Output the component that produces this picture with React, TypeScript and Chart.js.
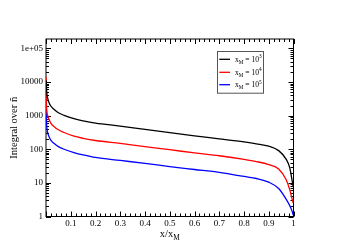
import React, { useEffect, useRef } from 'react';
import { Chart, registerables } from 'chart.js';
Chart.register(...registerables);

// ---- data ----
const xValues = [0.0002, 0.001, 0.003, 0.006, 0.012, 0.02, 0.032, 0.05, 0.073, 0.113, 0.15, 0.2, 0.3, 0.4, 0.5, 0.6, 0.7, 0.8, 0.85, 0.9, 0.94, 0.97, 0.985, 0.995, 0.999];
const seriesXM3 = [null, 11000, 5000, 3500, 2450, 1900, 1550, 1220, 1020, 810, 700, 600, 488, 388, 310, 250, 204, 165, 145, 123, 91, 51, 28, 11, 7.5];
const seriesXM4 = [14000, 3500, 1500, 1050, 775, 590, 475, 380, 315, 245, 212, 182, 149, 120, 97, 78, 64, 50, 43, 35, 26, 12.6, 6.2, 3.2, 2.5];
const seriesXM5 = [2200, 1100, 480, 330, 240, 185, 150, 120, 100, 80, 68, 57, 46.5, 38, 30.5, 25, 20.5, 15.5, 13.5, 10.5, 6.8, 3.3, 2.1, 1.4, 1.1];
const seriesExponents = ['3', '4', '5'];
const seriesColors = ['#000000', '#ff0000', '#0000ff'];
const xTickValues = [0.1, 0.2, 0.3, 0.4, 0.5, 0.6, 0.7, 0.8, 0.9, 1];
const xTickLabels = ['0.1', '0.2', '0.3', '0.4', '0.5', '0.6', '0.7', '0.8', '0.9', '1'];
const yTickValues = [1, 10, 100, 1000, 10000, 100000];
const yTickLabels = ['1', '10', '100', '1000', '10000', '1e+05'];
const yTitle = 'Integral over ñ';

const SERIF = '"Liberation Serif", "DejaVu Serif", serif';

function drawScript(ctx: CanvasRenderingContext2D, parts: { t: string; k: 'n' | 'sub' | 'sup' }[], x: number, y: number, size: number) {
  let cx = x;
  for (const p of parts) {
    const s = p.k === 'n' ? size : size * 0.7;
    const dy = p.k === 'sub' ? size * 0.3 : p.k === 'sup' ? -size * 0.42 : 0;
    ctx.font = `${s}px ${SERIF}`;
    ctx.fillText(p.t, cx, y + dy);
    cx += ctx.measureText(p.t).width;
  }
  return cx - x;
}
function measureScript(ctx: CanvasRenderingContext2D, parts: { t: string; k: 'n' | 'sub' | 'sup' }[], size: number) {
  let w = 0;
  for (const p of parts) {
    const s = p.k === 'n' ? size : size * 0.7;
    ctx.font = `${s}px ${SERIF}`;
    w += ctx.measureText(p.t).width;
  }
  return w;
}

const framePlugin = {
  id: 'frameTicks',
  beforeDatasetsDraw(chart: any) {
    const { ctx, chartArea: a, scales } = chart;
    const xs = scales.x, ys = scales.y;
    ctx.save();
    ctx.strokeStyle = '#000';
    ctx.lineWidth = 1;
    ctx.strokeRect(a.left, a.top, a.right - a.left, a.bottom - a.top);
    ctx.beginPath();
    for (let i = 0; i <= 50; i++) {
      const v = i / 50;
      const px = Math.round(xs.getPixelForValue(v)) + 0.5;
      const len = i % 5 === 0 ? 5 : 3;
      ctx.moveTo(px, a.bottom); ctx.lineTo(px, a.bottom - len);
      ctx.moveTo(px, a.top); ctx.lineTo(px, a.top + len);
    }
    for (let e = 0; e <= 5; e++) {
      for (let m = 1; m <= 9; m++) {
        const v = m * Math.pow(10, e);
        if (v > ys.max) break;
        const py = Math.round(ys.getPixelForValue(v)) + 0.5;
        const len = m === 1 ? 5 : 3;
        ctx.moveTo(a.left, py); ctx.lineTo(a.left + len, py);
        ctx.moveTo(a.right, py); ctx.lineTo(a.right - len, py);
      }
    }
    ctx.stroke();
    ctx.restore();
  },
  afterDraw(chart: any) {
    const { ctx, chartArea: a } = chart;
    ctx.save();
    ctx.fillStyle = '#000';
    ctx.textBaseline = 'alphabetic';
    // x axis title with subscript
    const xt = [{ t: 'x/x', k: 'n' as const }, { t: 'M', k: 'sub' as const }];
    const size = 10.5;
    const w = measureScript(ctx, xt, size);
    drawScript(ctx, xt, (a.left + a.right) / 2 - w / 2, a.bottom + 20.5, size);
    // legend
    const bx = a.left + 170.7, by = a.top + 12, bw = 46, bh = 41.7;
    ctx.strokeStyle = '#555';
    ctx.lineWidth = 1;
    ctx.strokeRect(Math.round(bx) + 0.5, Math.round(by) + 0.5, bw, bh);
    const rows = [8.3, 21.3, 33.7];
    seriesExponents.forEach((ex, i) => {
      const ry = by + rows[i];
      ctx.strokeStyle = seriesColors[i];
      ctx.lineWidth = 1.3;
      ctx.beginPath();
      ctx.moveTo(bx + 2.6, ry); ctx.lineTo(bx + 13.3, ry);
      ctx.stroke();
      ctx.fillStyle = '#000';
      drawScript(ctx, [
        { t: 'x', k: 'n' }, { t: 'M', k: 'sub' }, { t: ' = 10', k: 'n' }, { t: ex, k: 'sup' },
      ], bx + 18.3, ry + 2.3, 7.5);
    });
    ctx.restore();
  },
};

export default function App() {
  const ref = useRef<HTMLCanvasElement>(null);
  useEffect(() => {
    const prevMargin = document.body.style.margin;
    document.body.style.margin = '0';
    const datasets = [seriesXM3, seriesXM4, seriesXM5].map((s, i) => ({
      label: 'xM = 10^' + seriesExponents[i],
      data: xValues.map((x, j) => ({ x, y: s[j] })),
      borderColor: seriesColors[i],
      backgroundColor: seriesColors[i],
      borderWidth: 1.3,
      pointRadius: 0,
      fill: false,
      cubicInterpolationMode: 'monotone' as const,
      spanGaps: false,
    }));
    const chart = new Chart(ref.current!, {
      type: 'line',
      data: { datasets },
      options: {
        animation: false,
        responsive: false,
        devicePixelRatio: 1,
        layout: { padding: { left: 0, right: 57.5, top: 39, bottom: 0 } },
        plugins: { legend: { display: false }, tooltip: { enabled: false } },
        scales: {
          x: {
            type: 'linear',
            min: 0,
            max: 1,
            grid: { display: false, drawTicks: false },
            border: { display: false },
            afterBuildTicks: (scale: any) => { scale.ticks = xTickValues.map((v) => ({ value: v })); },
            afterFit: (scale: any) => { scale.height = 31.5; },
            ticks: {
              autoSkip: false,
              maxRotation: 0,
              padding: 2,
              color: '#000',
              font: { family: SERIF, size: 9 },
              callback: (v: any) => { const i = xTickValues.findIndex((t) => Math.abs(t - v) < 1e-9); return i >= 0 ? xTickLabels[i] : ''; },
            },
          },
          y: {
            type: 'logarithmic',
            min: 1,
            max: 190000,
            grid: { display: false, drawTicks: false },
            border: { display: false },
            afterBuildTicks: (scale: any) => { scale.ticks = yTickValues.map((v) => ({ value: v })); },
            afterFit: (scale: any) => { scale.width = 46; },
            title: { display: true, text: yTitle, color: '#000', font: { family: SERIF, size: 10.5 }, padding: { top: 8, bottom: 0 } },
            ticks: {
              autoSkip: false,
              padding: 3,
              color: '#000',
              font: { family: SERIF, size: 9 },
              callback: (v: any) => { const i = yTickValues.findIndex((t) => Math.abs(t - v) / t < 1e-9); return i >= 0 ? yTickLabels[i] : ''; },
            },
          },
        },
      },
      plugins: [framePlugin],
    });
    return () => { chart.destroy(); document.body.style.margin = prevMargin; };
  }, []);
  return (
    <div style={{ width: 351, height: 248, background: '#fff' }}>
      <canvas ref={ref} width={351} height={248} style={{ display: 'block', width: 351, height: 248 }} />
    </div>
  );
}
